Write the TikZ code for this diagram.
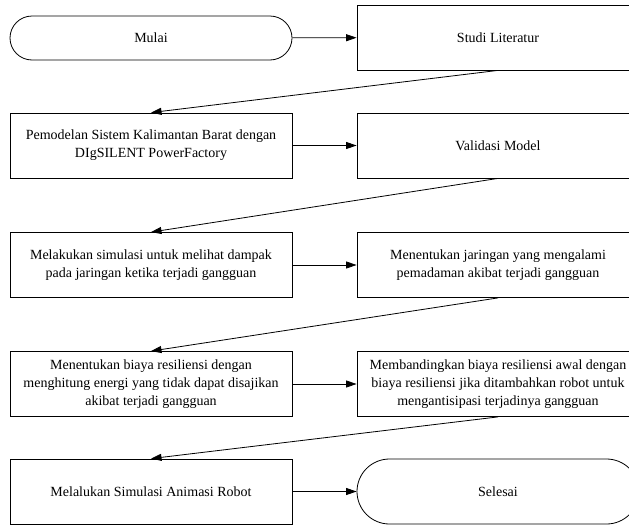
\documentclass[tikz,border=0pt]{standalone}
\usepackage{fontspec}
\setmainfont{Liberation Serif}
\usetikzlibrary{arrows.meta,shapes.misc}

\begin{document}
\begin{tikzpicture}[
x=1pt, y=-1pt,
process/.style={rectangle, draw, line width=0.8pt, minimum width=282pt, minimum height=65pt, align=center, inner sep=0pt, font=\fontsize{14}{18}\selectfont},
terminal/.style={rounded rectangle, draw, line width=0.8pt, minimum width=282pt, align=center, inner sep=0pt, font=\fontsize{14}{18}\selectfont},
flow/.style={-{Triangle[length=10.5pt,width=7pt]}, line width=0.8pt}
]
\useasboundingbox (0,0) rectangle (629,525);
\node[terminal, minimum height=44pt] (start) at (151,38) {Mulai};
\node[process] (studi) at (498,37.5) {Studi Literatur};
\node[process] (model) at (151,145.5) {Pemodelan Sistem Kalimantan Barat dengan\\DIgSILENT PowerFactory};
\node[process] (valid) at (498,145.5) {Validasi Model};
\node[process] (simul) at (151,265) {Melakukan simulasi untuk melihat dampak\\pada jaringan ketika terjadi gangguan};
\node[process] (padam) at (498,265) {Menentukan jaringan yang mengalami\\pemadaman akibat terjadi gangguan};
\node[process] (biaya) at (151,384) {Menentukan biaya resiliensi dengan\\menghitung energi yang tidak dapat disajikan\\akibat terjadi gangguan};
\node[process] (banding) at (498,384) {Membandingkan biaya resiliensi awal dengan\\biaya resiliensi jika ditambahkan robot untuk\\mengantisipasi terjadinya gangguan};
\node[process] (robot) at (151,491.5) {Melalukan Simulasi Animasi Robot};
\node[terminal, minimum height=65pt] (end) at (498,491.5) {Selesai};
\draw[flow] (start) -- (studi);
\draw[flow] (studi.south) -- (model.north);
\draw[flow] (model) -- (valid);
\draw[flow] (valid.south) -- (simul.north);
\draw[flow] (simul) -- (padam);
\draw[flow] (padam.south) -- (biaya.north);
\draw[flow] (biaya) -- (banding);
\draw[flow] (banding.south) -- (robot.north);
\draw[flow] (robot) -- (end);
\end{tikzpicture}
\end{document}
